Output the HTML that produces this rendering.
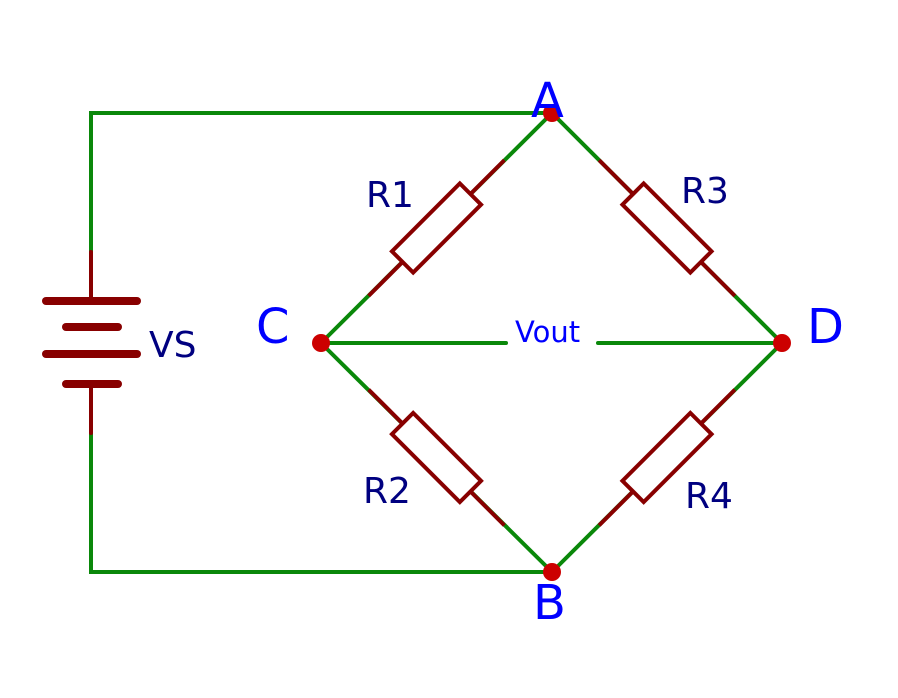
<!DOCTYPE html>
<html><head><style>html,body{margin:0;padding:0;background:#fff}svg{display:block}</style></head>
<body>
<svg width="898" height="698" viewBox="0 0 898 698" xmlns="http://www.w3.org/2000/svg">
<defs>
<g id="res">
<line x1="-96" y1="0" x2="-48" y2="0" stroke="#880000" stroke-width="4"/>
<line x1="48" y1="0" x2="96" y2="0" stroke="#880000" stroke-width="4"/>
<rect x="-48" y="-15" width="96" height="30" fill="#fff" stroke="#880000" stroke-width="4"/>
</g>
</defs>
<g stroke="#0a880a" stroke-width="4" fill="none" stroke-linecap="round">
<polyline points="552,113 91,113 91,255"/>
<polyline points="91,430 91,572 552,572"/>
<line x1="321" y1="343" x2="552" y2="113"/>
<line x1="552" y1="113" x2="782" y2="343"/>
<line x1="321" y1="343" x2="552" y2="572"/>
<line x1="552" y1="572" x2="782" y2="343"/>
<line x1="321" y1="343" x2="506" y2="343"/>
<line x1="598" y1="343" x2="782" y2="343"/>
</g>
<use href="#res" transform="translate(436.5,228) rotate(-45)"/>
<use href="#res" transform="translate(667,228) rotate(45)"/>
<use href="#res" transform="translate(436.5,457.5) rotate(45)"/>
<use href="#res" transform="translate(667,457.5) rotate(-45)"/>
<g stroke="#880000" stroke-linecap="round">
<line x1="91" y1="252" x2="91" y2="300" stroke-width="4"/>
<line x1="91" y1="384" x2="91" y2="433" stroke-width="4"/>
<line x1="46" y1="301" x2="137" y2="301" stroke-width="8"/>
<line x1="66" y1="327" x2="118" y2="327" stroke-width="8"/>
<line x1="46" y1="354" x2="137" y2="354" stroke-width="8"/>
<line x1="66" y1="384" x2="118" y2="384" stroke-width="8"/>
</g>
<g fill="#cc0000">
<circle cx="552" cy="113" r="9"/><circle cx="552" cy="572" r="9"/>
<circle cx="321" cy="343" r="9"/><circle cx="782" cy="343" r="9"/>
</g>
<g font-family="DejaVu Sans, sans-serif" fill="#000080" font-size="36">
<text x="366" y="207">R1</text>
<text x="681" y="203">R3</text>
<text x="363" y="503">R2</text>
<text x="685" y="508">R4</text>
<text x="149" y="357">VS</text>
</g>
<g font-family="DejaVu Sans, sans-serif" fill="#0000ff" font-size="48">
<text x="531" y="117">A</text>
<text x="533" y="619">B</text>
<text x="256" y="343">C</text>
<text x="807" y="343">D</text>
</g>
<text x="515" y="342" font-family="DejaVu Sans, sans-serif" fill="#0000ff" font-size="29">Vout</text>
</svg>
</body></html>
